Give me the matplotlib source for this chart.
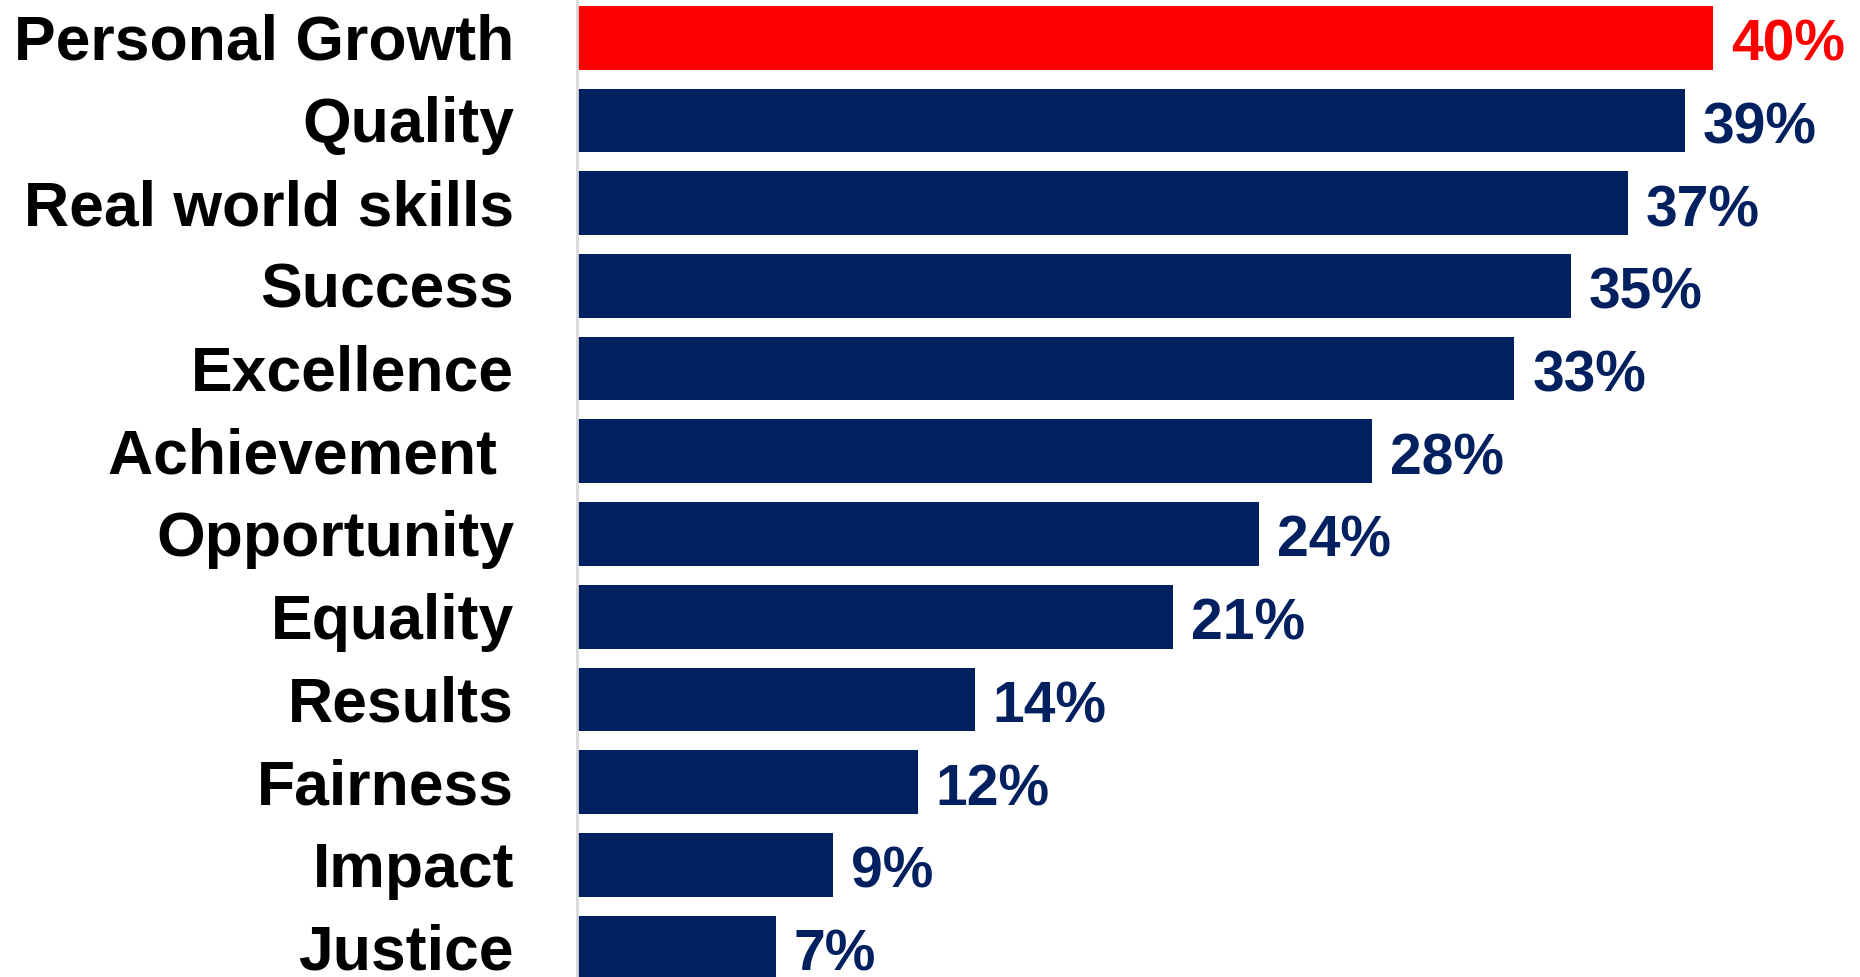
import matplotlib
matplotlib.use("Agg")
import matplotlib.pyplot as plt

categories = ["Personal Growth", "Quality", "Real world skills", "Success", "Excellence",
              "Achievement ", "Opportunity", "Equality", "Results", "Fairness", "Impact", "Justice"]
values = [40, 39, 37, 35, 33, 28, 24, 21, 14, 12, 9, 7]
value_labels = ["40%", "39%", "37%", "35%", "33%", "28%", "24%", "21%", "14%", "12%", "9%", "7%"]

NAVY = "#002060"
RED = "#FF0000"
colors = [RED] + [NAVY] * (len(values) - 1)

plt.rcParams['font.family'] = ['Liberation Sans', 'DejaVu Sans']

fig = plt.figure(figsize=(18.6, 9.78), dpi=100)
ax = fig.add_axes([577 / 1860, 0, 1283 / 1860, 1])

ypos = list(range(len(categories)))
ax.barh(ypos, values, height=0.77, color=colors, edgecolor='none')

ax.set_xlim(0, 1283 / 28.4)
ax.set_ylim(11.357, -0.4686)

for s in ['top', 'right', 'bottom']:
    ax.spines[s].set_visible(False)
ax.spines['left'].set_color('#d9d9d9')
ax.spines['left'].set_linewidth(2)
ax.set_xticks([])
ax.set_yticks([])

for i, (cat, v, lab, c) in enumerate(zip(categories, values, value_labels, colors)):
    ax.annotate(cat, xy=(0, i), xycoords=('axes fraction', 'data'),
                xytext=(-63, -21), textcoords='offset pixels',
                ha='right', va='baseline', fontsize=45, fontweight='bold', color='black',
                annotation_clip=False)
    ax.annotate(lab, xy=(v, i), xycoords='data',
                xytext=(18, -22), textcoords='offset pixels',
                ha='left', va='baseline', fontsize=41, fontweight='bold', color=c,
                annotation_clip=False)

fig.savefig("out.png", dpi=100)
